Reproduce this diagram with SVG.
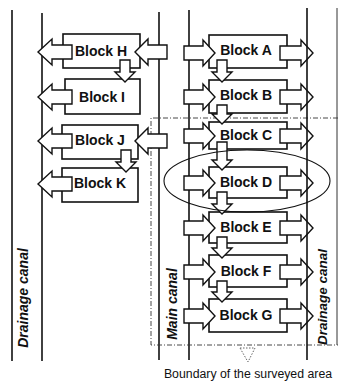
<svg xmlns="http://www.w3.org/2000/svg" width="344" height="384" viewBox="0 0 344 384">
<style>
.box{fill:#fff;stroke:#111;stroke-width:1.6}
.arr{fill:#fff;stroke:#111;stroke-width:1.4;stroke-linejoin:miter}
.canal{stroke:#111;stroke-width:1.6;fill:none}
.thin{stroke:#333;stroke-width:1;fill:none}
.bnd{stroke:#333;stroke-width:0.9;fill:none;stroke-dasharray:5 2 1 2}
.lbl{font-family:"Liberation Sans",Arial,sans-serif;font-weight:bold;font-size:14px;fill:#111;text-anchor:middle;dominant-baseline:central}
.cl{font-family:"Liberation Sans",Arial,sans-serif;font-weight:bold;font-style:italic;font-size:14px;fill:#111;text-anchor:middle}
.cap{font-family:"Liberation Sans",Arial,sans-serif;font-size:12.3px;fill:#111;text-anchor:middle}
</style>
<rect width="344" height="384" fill="#fff"/>
<g id="canals">
<line class="canal" x1="12" y1="10" x2="12" y2="361"/>
<line class="canal" x1="42" y1="13" x2="42" y2="361"/>
<line class="canal" x1="159" y1="12" x2="159" y2="360"/>
<line class="canal" x1="189" y1="10" x2="189" y2="360"/>
<line class="thin" x1="337" y1="8" x2="337" y2="345"/>
</g>
<g id="boundary">
<polyline class="bnd" points="338,118 151,118 151,345 338,345"/>
<polygon points="240,348 255,348 248,362" fill="none" stroke="#555" stroke-width="0.9" stroke-dasharray="1.5 1.5"/>
</g>
<g id="block-H"><rect class="box" x="63" y="34" width="77" height="34"/><text class="lbl" x="101" y="51">Block H</text></g>
<g id="block-I"><rect class="box" x="65" y="79" width="75" height="35"/><text class="lbl" x="102" y="97">Block I</text></g>
<g id="block-J"><rect class="box" x="62" y="125" width="76" height="34"/><text class="lbl" x="100" y="140">Block J</text></g>
<g id="block-K"><rect class="box" x="62" y="168" width="76" height="34"/><text class="lbl" x="100" y="183">Block K</text></g>
<g id="block-A"><rect class="box" x="209" y="35" width="78" height="33"/><text class="lbl" x="246" y="50">Block A</text></g>
<g id="block-B"><rect class="box" x="209" y="80" width="78" height="33"/><text class="lbl" x="246" y="95">Block B</text></g>
<g id="block-C"><rect class="box" x="209" y="122" width="78" height="27"/><text class="lbl" x="246" y="135">Block C</text></g>
<g id="block-D"><rect class="box" x="209" y="167" width="78" height="31"/><text class="lbl" x="246" y="182">Block D</text></g>
<g id="block-E"><rect class="box" x="209" y="212" width="78" height="31"/><text class="lbl" x="246" y="227">Block E</text></g>
<g id="block-F"><rect class="box" x="209" y="255" width="78" height="32"/><text class="lbl" x="246" y="271">Block F</text></g>
<g id="block-G"><rect class="box" x="209" y="299" width="78" height="33"/><text class="lbl" x="246" y="315">Block G</text></g>
<g id="connectors">
<polygon class="arr" points="72,45 52,45 52,39 38,52 52,65 52,59 72,59"/>
<polygon class="arr" points="72,90 52,90 52,84 38,97 52,110 52,104 72,104"/>
<polygon class="arr" points="72,134 52,134 52,128 38,141 52,154 52,148 72,148"/>
<polygon class="arr" points="72,177 52,177 52,171 38,184 52,197 52,191 72,191"/>
<polygon class="arr" points="167,45 148,45 148,39 135,52 148,65 148,59 167,59"/>
<polygon class="arr" points="167,134 148,134 148,128 135,141 148,154 148,148 167,148"/>
<polygon class="arr" points="120,60 130,60 130,72 135,72 125,82 115,72 120,72"/>
<polygon class="arr" points="121,150 131,150 131,162 136,162 126,172 116,162 121,162"/>
<polygon class="arr" points="184,46 203,46 203,40 215,53 203,66 203,60 184,60"/>
<polygon class="arr" points="184,90 203,90 203,84 215,97 203,110 203,104 184,104"/>
<polygon class="arr" points="184,129 203,129 203,123 215,136 203,149 203,143 184,143"/>
<polygon class="arr" points="184,176 203,176 203,170 215,183 203,196 203,190 184,190"/>
<polygon class="arr" points="184,221 203,221 203,215 215,228 203,241 203,235 184,235"/>
<polygon class="arr" points="184,265 203,265 203,259 215,272 203,285 203,279 184,279"/>
<polygon class="arr" points="184,309 203,309 203,303 215,316 203,329 203,323 184,323"/>
<polygon class="arr" points="280,46 301,46 301,40 313,53 301,66 301,60 280,60"/>
<polygon class="arr" points="280,90 301,90 301,84 313,97 301,110 301,104 280,104"/>
<polygon class="arr" points="280,129 301,129 301,123 313,136 301,149 301,143 280,143"/>
<polygon class="arr" points="280,176 301,176 301,170 313,183 301,196 301,190 280,190"/>
<polygon class="arr" points="280,221 301,221 301,215 313,228 301,241 301,235 280,235"/>
<polygon class="arr" points="280,265 301,265 301,259 313,272 301,285 301,279 280,279"/>
<polygon class="arr" points="280,309 301,309 301,303 313,316 301,329 301,323 280,323"/>
<polygon class="arr" points="217,60 227,60 227,72 232,72 222,82 212,72 217,72"/>
<polygon class="arr" points="217,105 227,105 227,114 232,114 222,124 212,114 217,114"/>
<polygon class="arr" points="217,142 227,142 227,160 232,160 222,170 212,160 217,160"/>
<polygon class="arr" points="217,192 227,192 227,204 232,204 222,214 212,204 217,204"/>
<polygon class="arr" points="217,237 227,237 227,248 232,248 222,258 212,248 217,248"/>
<polygon class="arr" points="217,281 227,281 227,292 232,292 222,302 212,292 217,292"/>
</g>
<g id="canal-right">
<line class="canal" x1="307" y1="8" x2="307" y2="360"/>
</g>
<ellipse cx="247" cy="181" rx="83" ry="31" fill="none" stroke="#111" stroke-width="1.1"/>
<g id="labels">
<text class="cl" transform="translate(28,298) rotate(-90)">Drainage canal</text>
<text class="cl" transform="translate(177,304) rotate(-90)">Main canal</text>
<text class="cl" style="font-size:13.5px" transform="translate(327,297) rotate(-90)">Drainage canal</text>
<text class="cap" x="248" y="378">Boundary of the surveyed area</text>
</g>
</svg>
